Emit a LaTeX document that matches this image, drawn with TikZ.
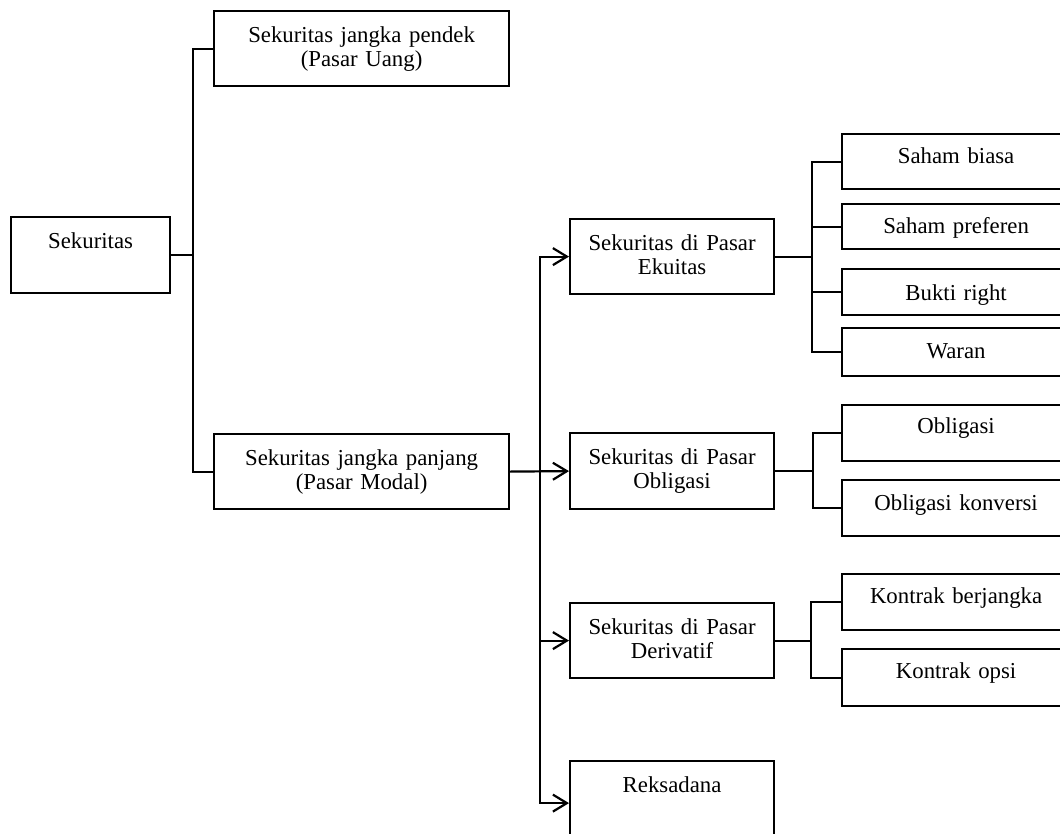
\documentclass[tikz,border=0pt]{standalone}
\usepackage{fontspec}
\setmainfont{Liberation Serif}
\usetikzlibrary{arrows.meta,calc}

\begin{document}
\begin{tikzpicture}[x=1pt, y=-1pt, line width=2.2pt,
		font=\fontsize{22.8}{24.5}\selectfont,
		>={Straight Barb[length=14pt,width=17pt]},
		kotak/.style = {draw, rectangle, anchor=north west, inner sep=0pt, align=center, text height=31pt},
		besar/.style = {kotak, text width=204pt, text depth=44pt},
		kecil/.style = {kotak, text width=228pt, text height=29pt, text depth=27pt}]
			\useasboundingbox (0,0) rectangle (1060,833);
			\clip (0,0) rectangle (1060,833);
			% kolom pertama
			\node[kotak, text width=159pt, text depth=45pt] (sekuritas) at (10,216) {Sekuritas};
			\node[kotak, text width=295pt, text depth=44pt] (pendek) at (213,10) {Sekuritas jangka pendek\\(Pasar Uang)};
			\node[kotak, text width=295pt, text depth=44pt] (panjang) at (213,433) {Sekuritas jangka panjang\\(Pasar Modal)};
			% pasar modal
			\node[besar] (ekuitas) at (569,218) {Sekuritas di Pasar\\Ekuitas};
			\node[besar, text depth=45pt] (obligasi) at (569,432) {Sekuritas di Pasar\\Obligasi};
			\node[besar] (derivatif) at (569,602) {Sekuritas di Pasar\\Derivatif};
			\node[besar, text depth=53pt] (reksadana) at (569,760) {Reksadana};
			% instrumen
			\node[kecil, text depth=26pt] (biasa) at (841,133) {Saham biasa};
			\node[kecil, text depth=16pt] (preferen) at (841,203) {Saham preferen};
			\node[kecil, text height=31pt, text depth=15pt] (bukti) at (841,268) {Bukti right};
			\node[kecil, text height=30pt, text depth=18pt] (waran) at (841,327) {Waran};
			\node[kecil, text height=28pt, text depth=28pt] (obl) at (841,404) {Obligasi};
			\node[kecil, text height=30pt, text depth=26pt] (konversi) at (841,479) {Obligasi konversi};
			\node[kecil] (berjangka) at (841,573) {Kontrak berjangka};
			\node[kecil, text depth=28pt] (opsi) at (841,648) {Kontrak opsi};
			% garis
			\draw (sekuritas.east) -- ++(22,0) coordinate (t1);
			\draw (t1) |- (pendek.west);
			\draw (t1) |- (panjang.west);
			\coordinate (t2) at ($(panjang.east)!0.5!(obligasi.west)$);
			\draw[->] (panjang.east) -- (obligasi.west);
			\draw[->] (t2) |- (ekuitas.west);
			\draw[->] (t2) |- (derivatif.west);
			\draw[->] (t2) |- (reksadana.west);
			\draw (ekuitas.east) -- ++(37,0) coordinate (e1);
			\draw (e1) |- (biasa.west);
			\draw (e1) |- (preferen.west);
			\draw (e1) |- (bukti.west);
			\draw (e1) |- (waran.west);
			\draw (obligasi.east) -- ++(38,0) coordinate (o1);
			\draw (o1) |- (obl.west);
			\draw (o1) |- (konversi.west);
			\draw (derivatif.east) -- ++(36,0) coordinate (d1);
			\draw (d1) |- (berjangka.west);
			\draw (d1) |- (opsi.west);
		\end{tikzpicture}
\end{document}
